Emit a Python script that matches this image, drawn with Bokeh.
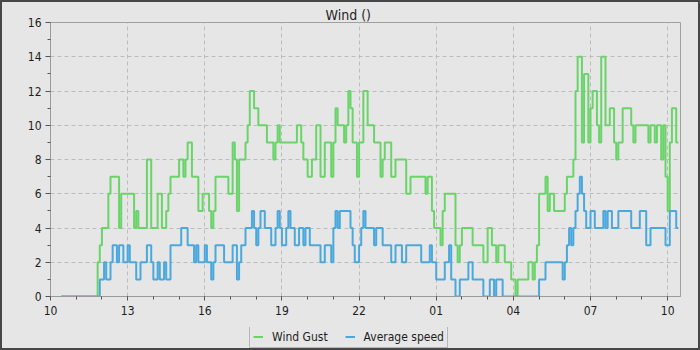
from bokeh.plotting import figure
from bokeh.layouts import column
from bokeh.models import Range1d, FixedTicker, Legend, LegendItem, ColumnDataSource
from bokeh.embed import file_html
from bokeh.resources import INLINE

# Hour ticks on the time axis (hours after the first tick, 10:00)
tick_hours = [0, 3, 6, 9, 12, 15, 18, 21, 24]
tick_labels = ["10", "13", "16", "19", "22", "01", "04", "07", "10"]
speed_ticks = [0, 2, 4, 6, 8, 10, 12, 14, 16]

# Wind gust (change points, HH:MM)
gust_time = [
    "10:25", "11:50", "11:55", "12:00", "12:15", "12:20", "12:40", "12:45", "13:15", "13:20",
    "13:25", "13:45", "13:55", "14:10", "14:20", "14:30", "14:35", "14:40", "15:00", "15:10",
    "15:15", "15:20", "15:30", "15:45", "15:55", "16:10", "16:15", "16:20", "16:25", "16:55",
    "17:05", "17:10", "17:15", "17:20", "17:35", "17:40", "17:45", "17:55", "18:05", "18:25",
    "18:40", "18:45", "18:50", "18:55", "19:35", "19:45", "19:50", "20:00", "20:10", "20:20",
    "20:30", "20:40", "20:55", "21:00", "21:05", "21:10", "21:25", "21:30", "21:35", "21:40",
    "21:45", "21:55", "22:00", "22:10", "22:20", "22:35", "22:50", "22:55", "23:00", "23:15",
    "23:25", "23:50", "00:00", "00:35", "00:40", "00:50", "00:55", "01:10", "01:15", "01:20",
    "01:45", "01:50", "01:55", "02:00", "02:25", "02:50", "03:00", "03:10", "03:20", "03:25",
    "03:40", "03:55", "04:05", "04:10", "04:35", "04:45", "04:50", "04:55", "05:00", "05:15",
    "05:20", "05:25", "05:35", "06:00", "06:05", "06:20", "06:25", "06:30", "06:40", "06:45",
    "06:55", "07:00", "07:05", "07:15", "07:20", "07:25", "07:35", "07:45", "07:55", "08:00",
    "08:05", "08:15", "08:35", "08:40", "08:45", "09:15", "09:20", "09:30", "09:35", "09:45",
    "09:50", "09:55", "10:00", "10:05", "10:10", "10:20", "10:25",
]
gust_speed = [
    0, 2, 3, 4, 6, 7, 4, 6, 4, 5,
    4, 8, 4, 6, 4, 5, 6, 7, 8, 7,
    8, 9, 7, 5, 6, 5, 4, 5, 7, 6,
    9, 8, 5, 8, 9, 10, 12, 11, 10, 9,
    8, 9, 10, 9, 10, 9, 8, 7, 8, 10,
    7, 9, 7, 9, 11, 10, 9, 10, 12, 11,
    9, 7, 9, 12, 10, 9, 7, 8, 9, 7,
    8, 6, 7, 6, 7, 5, 4, 3, 5, 6,
    3, 2, 3, 4, 3, 2, 4, 3, 2, 3,
    2, 1, 0, 1, 2, 1, 2, 3, 6, 7,
    5, 6, 5, 6, 7, 8, 12, 14, 9, 13,
    9, 11, 12, 10, 9, 14, 10, 11, 9, 8,
    9, 11, 10, 9, 10, 9, 10, 9, 10, 8,
    10, 7, 5, 9, 11, 9, 9,
]

# Average wind speed (change points, HH:MM)
avg_time = [
    "10:25", "11:55", "12:05", "12:10", "12:20", "12:25", "12:35", "12:40", "12:50", "13:00",
    "13:05", "13:20", "13:30", "13:45", "13:55", "14:00", "14:10", "14:15", "14:25", "14:30",
    "14:40", "15:05", "15:20", "15:35", "15:40", "15:45", "16:00", "16:05", "16:15", "16:20",
    "16:25", "16:45", "17:05", "17:15", "17:20", "17:25", "17:35", "17:50", "17:55", "18:00",
    "18:05", "18:10", "18:20", "18:35", "18:45", "18:50", "18:55", "19:00", "19:10", "19:15",
    "19:20", "19:30", "19:40", "19:50", "19:55", "20:05", "20:30", "20:40", "20:55", "21:00",
    "21:05", "21:10", "21:15", "21:40", "21:45", "21:50", "22:00", "22:05", "22:10", "22:15",
    "22:35", "22:40", "22:55", "23:15", "23:25", "23:40", "23:50", "00:25", "00:45", "00:50",
    "01:00", "01:20", "01:30", "01:35", "01:45", "01:55", "02:15", "02:25", "02:50", "03:05",
    "03:15", "03:20", "03:35", "05:00", "05:15", "05:55", "06:00", "06:05", "06:10", "06:15",
    "06:20", "06:25", "06:30", "06:35", "06:40", "06:45", "06:50", "07:00", "07:10", "07:30",
    "07:35", "07:40", "07:50", "08:05", "08:35", "08:55", "09:10", "09:20", "09:55", "10:05",
    "10:20", "10:25",
]
avg_speed = [
    0, 1, 2, 1, 2, 3, 2, 3, 2, 3,
    2, 1, 2, 3, 2, 1, 2, 1, 2, 1,
    3, 4, 3, 2, 3, 2, 3, 2, 1, 2,
    3, 2, 3, 1, 2, 3, 4, 5, 4, 3,
    4, 5, 4, 3, 4, 5, 4, 3, 4, 5,
    4, 3, 4, 3, 4, 3, 2, 3, 2, 4,
    5, 4, 5, 4, 3, 2, 3, 4, 5, 4,
    3, 4, 3, 2, 3, 2, 3, 2, 3, 2,
    1, 2, 3, 1, 0, 1, 2, 1, 0, 1,
    0, 1, 0, 1, 2, 1, 2, 3, 4, 3,
    4, 5, 6, 7, 6, 5, 4, 5, 4, 5,
    4, 5, 4, 5, 4, 5, 3, 4, 3, 5,
    4, 4,
]

BG = "#e6e6e6"
GUST_COLOR = "#6ad46a"
AVG_COLOR = "#4ba8dc"
FONT = "DejaVu Sans Condensed"


def to_hours(times):
    """Clock times -> hours after 10:00, rolling over midnight."""
    out, prev, day = [], None, 0
    for t in times:
        hh, mm = (int(s) for s in t.split(":"))
        m = hh * 60 + mm - 600 + day * 1440
        if prev is not None and m < prev:
            day += 1
            m += 1440
        out.append(m / 60.0)
        prev = m
    return out


gust_src = ColumnDataSource(dict(t=to_hours(gust_time), v=gust_speed))
avg_src = ColumnDataSource(dict(t=to_hours(avg_time), v=avg_speed))

# ---- main chart ----
p = figure(
    width=696, height=325, output_backend="svg", toolbar_location=None,
    x_range=Range1d(0, 24.5), y_range=Range1d(0, 16),
    min_border_left=48, min_border_right=18, min_border_top=20, min_border_bottom=31,
    background_fill_color=BG, border_fill_color=BG,
    title="Wind ()",
)
p.outline_line_color = "#a0a0a0"

p.title.align = "left"
p.title.offset = 275
p.title.text_font = FONT
p.title.text_font_size = "14px"
p.title.text_font_style = "normal"
p.title.text_color = "#1e1e1e"
p.title.standoff = 0

p.xaxis.ticker = FixedTicker(ticks=tick_hours, minor_ticks=list(range(0, 25)))
p.xaxis.major_label_overrides = {h: lab for h, lab in zip(tick_hours, tick_labels)}
p.yaxis.ticker = FixedTicker(ticks=speed_ticks, minor_ticks=list(range(1, 16, 2)))

for ax in (p.xaxis[0], p.yaxis[0]):
    ax.axis_line_color = "#9a9a9a"
    ax.major_tick_line_color = "#555555"
    ax.minor_tick_line_color = "#555555"
    ax.major_tick_in = 0
    ax.minor_tick_in = 0
    ax.minor_tick_out = 3
    ax.major_label_text_font = FONT
    ax.major_label_text_font_size = "12px"
    ax.major_label_text_color = "#1e1e1e"
p.xaxis.major_tick_out = 4
p.xaxis.major_label_standoff = 5
p.yaxis.major_tick_out = 5
p.yaxis.major_label_standoff = 4

for g in (p.xgrid[0], p.ygrid[0]):
    g.grid_line_color = "#bcbcbc"
    g.grid_line_dash = "4 3"
    g.grid_line_width = 1

gust = p.step("t", "v", source=gust_src, mode="after", line_width=2, color=GUST_COLOR)
avg = p.step("t", "v", source=avg_src, mode="after", line_width=2, color=AVG_COLOR)

# ---- legend strip under the chart ----
# The key renderers share the series data but look at an empty window,
# so only their legend swatches show.
leg = figure(
    width=696, height=21, output_backend="svg", toolbar_location=None,
    x_range=Range1d(-3, -2), y_range=Range1d(-3, -2),
    min_border=0, x_axis_location=None, y_axis_location=None,
    background_fill_color=BG, border_fill_color=BG, outline_line_color=None,
)
leg.grid.visible = False
gust_key = leg.step("t", "v", source=gust_src, mode="after", line_width=2, color=GUST_COLOR)
avg_key = leg.step("t", "v", source=avg_src, mode="after", line_width=2, color=AVG_COLOR)

legend = Legend(
    items=[LegendItem(label="Wind Gust", renderers=[gust_key]),
           LegendItem(label="Average speed", renderers=[avg_key])],
    orientation="horizontal", location=(199, 0),
    background_fill_color=BG, background_fill_alpha=1.0,
    border_line_color="#8a8a8a", border_line_width=1,
    label_text_font=FONT, label_text_font_size="12px", label_text_color="#1e1e1e",
    glyph_width=10, glyph_height=15, label_height=15, label_standoff=9,
    spacing=17, padding=3, margin=0,
)
leg.add_layout(legend)

layout = column(p, leg, spacing=0)
layout.styles = {"border": "2px solid #474747", "background-color": BG}

open("out.html", "w").write(file_html(layout, INLINE))
